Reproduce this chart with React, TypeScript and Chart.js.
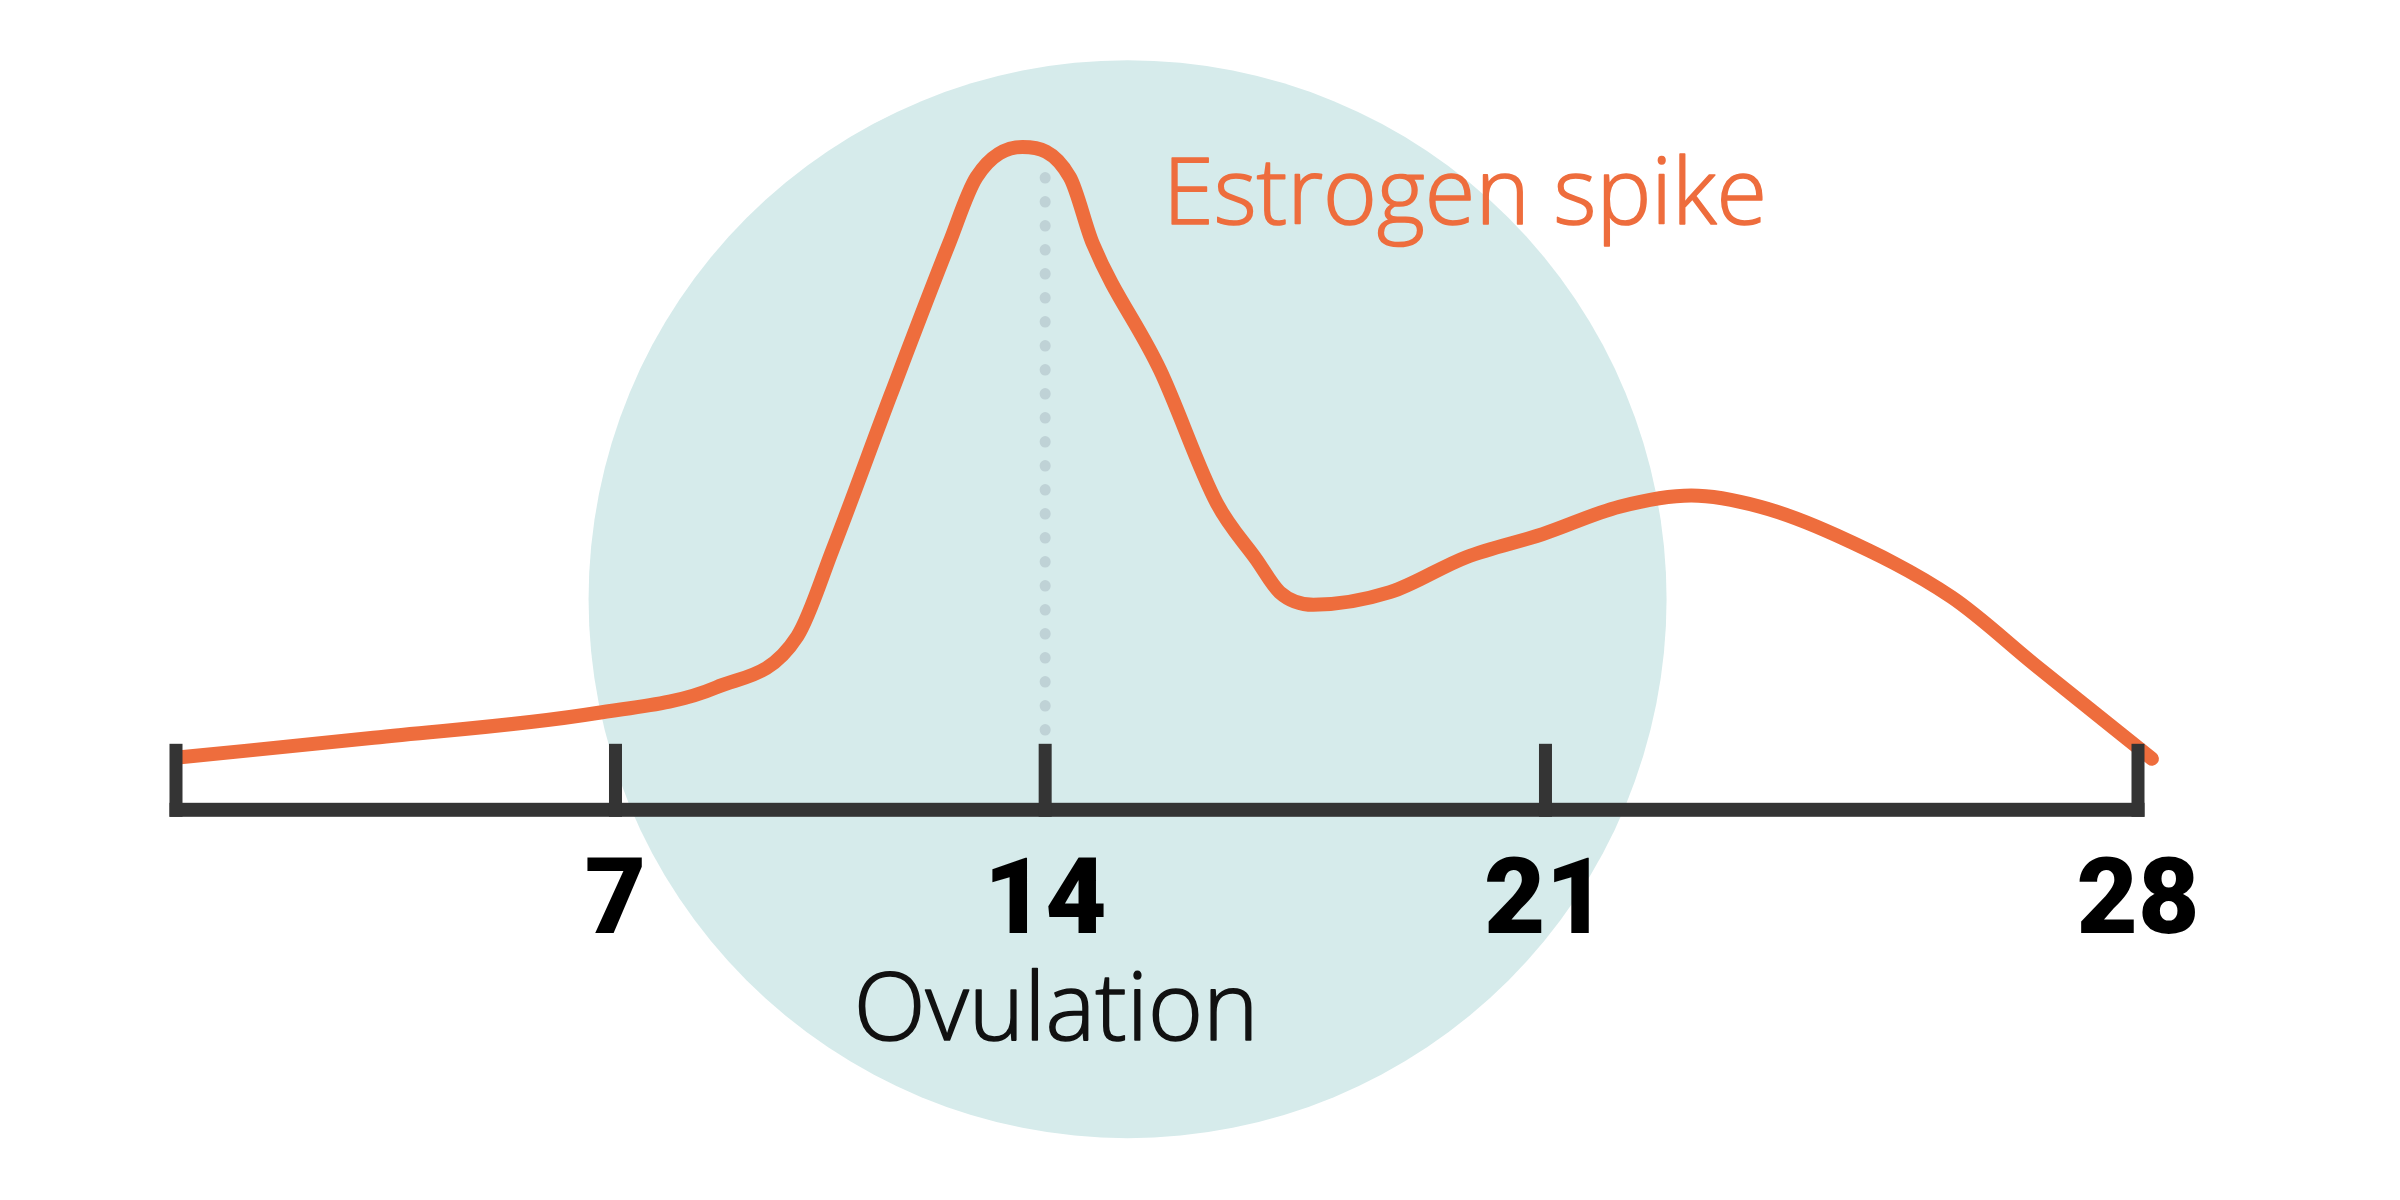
import React, { useEffect, useRef } from 'react';
import { Chart, registerables } from 'chart.js';

Chart.register(...registerables);

// Position along the cycle axis (0 = cycle start tick, 100 = day-28 tick)
const curveX = [0.23, 10.07, 21.38, 27.54, 31.67, 33.47, 36.43, 39.40, 40.80, 43.14, 45.56, 46.73, 50.16, 53.05, 55.08, 56.25, 57.97, 61.87, 65.76, 69.66, 73.57, 77.23, 80.74, 84.64, 90.49, 94.79, 100.71];
// Estrogen level (relative units)
const estrogenLevel = [7.5, 10.3, 13.8, 17.5, 24.8, 37.2, 59.3, 80.9, 90.4, 94.7, 90.4, 80.9, 62.8, 43.8, 35.7, 31.1, 29.3, 31.1, 36.1, 39.4, 43.3, 44.9, 43.3, 39.2, 30.4, 20.6, 7.3];

// Day ticks
const tickValues = [0, 22.4, 44.3, 69.8, 100];
const tickLabels = ['', '7', '14', '21', '28'];

// Ovulation marker (dotted line at day 14)
const ovulationX = 44.3;
const ovulationLineY = [11.4, 90.4];

// Highlight circle centre
const highlightX = 48.5;
const highlightY = 30.1;
const highlightRadius = 539;

const ORANGE = '#EE6D3D';
const AXIS = '#343434';

const axisPlugin = {
  id: 'cycleAxis',
  beforeDraw(chart: any) {
    const { ctx } = chart;
    const xs = chart.scales.x;
    const ys = chart.scales.y;
    ctx.save();
    ctx.fillStyle = '#D6EBEB';
    ctx.beginPath();
    ctx.arc(xs.getPixelForValue(highlightX), ys.getPixelForValue(highlightY), highlightRadius, 0, Math.PI * 2);
    ctx.fill();
    ctx.restore();
  },
  afterDatasetsDraw(chart: any) {
    const { ctx } = chart;
    const xs = chart.scales.x;
    const ys = chart.scales.y;
    const y0 = ys.getPixelForValue(0);
    const half = 6.5;
    ctx.save();
    ctx.fillStyle = AXIS;
    const left = xs.getPixelForValue(tickValues[0]) - half;
    const right = xs.getPixelForValue(tickValues[tickValues.length - 1]) + half;
    ctx.fillRect(left, y0 - 7, right - left, 14);
    tickValues.forEach((v) => {
      const px = xs.getPixelForValue(v);
      ctx.fillRect(px - half, y0 - 66, half * 2, 73);
    });
    ctx.restore();
  },
  afterDraw(chart: any) {
    const { ctx } = chart;
    const xs = chart.scales.x;
    const ys = chart.scales.y;
    ctx.save();
    ctx.textBaseline = 'alphabetic';
    ctx.lineWidth = 1.6;
    ctx.lineJoin = 'round';

    ctx.font = '300 92px "Open Sans", "Lato", sans-serif';
    ctx.fillStyle = ORANGE;
    ctx.strokeStyle = ORANGE;
    ctx.textAlign = 'left';
    const ex = xs.getPixelForValue(50.3);
    const ey = ys.getPixelForValue(83.7);
    ctx.fillText('Estrogen spike', ex, ey);
    ctx.strokeText('Estrogen spike', ex, ey);

    ctx.font = '300 94px "Open Sans", "Lato", sans-serif';
    ctx.fillStyle = '#111111';
    ctx.strokeStyle = '#111111';
    ctx.textAlign = 'center';
    const ox = xs.getPixelForValue(ovulationX) + 11;
    const oy = ys.getPixelForValue(-32.9);
    ctx.fillText('Ovulation', ox, oy);
    ctx.strokeText('Ovulation', ox, oy);
    ctx.restore();
  },
};

export default function App() {
  const canvasRef = useRef<HTMLCanvasElement | null>(null);

  useEffect(() => {
    const canvas = canvasRef.current;
    if (!canvas) return;
    const chart = new Chart(canvas, {
      type: 'line',
      data: {
        datasets: [
          {
            label: 'Estrogen',
            data: curveX.map((x, i) => ({ x, y: estrogenLevel[i] })),
            borderColor: ORANGE,
            borderWidth: 14,
            borderCapStyle: 'round',
            borderJoinStyle: 'round',
            cubicInterpolationMode: 'monotone',
            pointRadius: 0,
            fill: false,
            clip: false,
          } as any,
          {
            label: 'Ovulation',
            data: ovulationLineY.map((y) => ({ x: ovulationX, y })),
            borderColor: '#BFD2D6',
            borderWidth: 11,
            borderCapStyle: 'round',
            borderDash: [0.5, 23.5],
            pointRadius: 0,
            fill: false,
            clip: false,
          } as any,
        ],
      },
      options: {
        responsive: false,
        devicePixelRatio: 1,
        animation: false,
        events: [],
        layout: { padding: { left: 176, right: 262, top: 110, bottom: 197 } },
        plugins: { legend: { display: false }, tooltip: { enabled: false } },
        scales: {
          x: {
            type: 'linear',
            min: 0,
            max: 100,
            z: 1,
            grid: { display: false, drawTicks: false },
            border: { display: false },
            afterBuildTicks: (scale: any) => {
              scale.ticks = tickValues.map((v) => ({ value: v }));
            },
            ticks: {
              padding: 33,
              autoSkip: false,
              maxRotation: 0,
              color: '#000000',
              font: { family: 'Roboto, "Liberation Sans", sans-serif', size: 106, weight: '900', lineHeight: 1.2 },
              callback: (_v: any, i: number) => tickLabels[i],
            },
          },
          y: { type: 'linear', min: 0, max: 100, display: false },
        },
      } as any,
      plugins: [axisPlugin],
    });
    return () => chart.destroy();
  }, []);

  return (
    <div style={{ position: 'fixed', left: 0, top: 0, width: 2400, height: 1200, background: '#ffffff' }}>
      <canvas ref={canvasRef} width={2400} height={1200} style={{ display: 'block', width: 2400, height: 1200 }} />
    </div>
  );
}
